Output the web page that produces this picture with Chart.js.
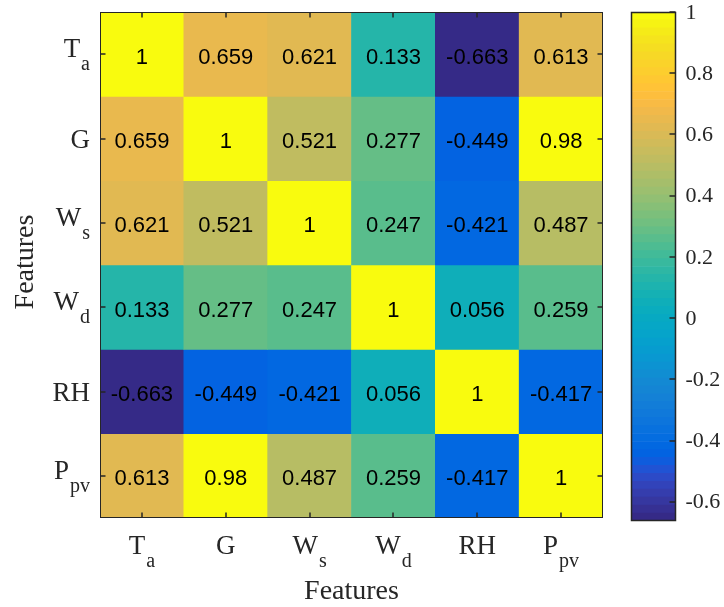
<!DOCTYPE html>
<html>
<head>
<meta charset="utf-8">
<script src="https://cdn.jsdelivr.net/npm/chart.js@4.4.1/dist/chart.umd.min.js"></script>
<style>
  body { margin: 0; background: #fff; }
  #wrap { position: relative; width: 724px; height: 607px; }
  #heat { position: absolute; left: 0; top: 0; }
  #bar { position: absolute; left: 620px; top: 0; }
</style>
</head>
<body>
<div id="wrap">
  <canvas id="heat" width="620" height="607"></canvas>
  <canvas id="bar" width="104" height="607"></canvas>
</div>
<script>
// feature labels: base letter(s) + subscript
const featureBase = ['T', 'G', 'W', 'W', 'RH', 'P'];
const featureSub = ['a', '', 's', 'd', '', 'pv'];

// correlation matrix, one row per feature
const rowTa = [1, 0.659, 0.621, 0.133, -0.663, 0.613];
const rowG = [0.659, 1, 0.521, 0.277, -0.449, 0.98];
const rowWs = [0.621, 0.521, 1, 0.247, -0.421, 0.487];
const rowWd = [0.133, 0.277, 0.247, 1, 0.056, 0.259];
const rowRH = [-0.663, -0.449, -0.421, 0.056, 1, -0.417];
const rowPpv = [0.613, 0.98, 0.487, 0.259, -0.417, 1];
const matrix = [rowTa, rowG, rowWs, rowWd, rowRH, rowPpv];

// colorbar tick labels
const colorbarTicks = [1, 0.8, 0.6, 0.4, 0.2, 0, -0.2, -0.4, -0.6];

const axisTitle = 'Features';

// parula colormap, 64 entries
const PARULA = [
  [0.2081,0.1663,0.5292],[0.2116,0.1898,0.5777],[0.2123,0.2138,0.6270],[0.2081,0.2386,0.6771],
  [0.1959,0.2645,0.7279],[0.1707,0.2919,0.7792],[0.1253,0.3242,0.8303],[0.0591,0.3598,0.8683],
  [0.0117,0.3875,0.8820],[0.0060,0.4086,0.8828],[0.0165,0.4266,0.8786],[0.0329,0.4430,0.8720],
  [0.0498,0.4586,0.8641],[0.0629,0.4737,0.8554],[0.0723,0.4887,0.8467],[0.0779,0.5040,0.8384],
  [0.0793,0.5200,0.8312],[0.0749,0.5375,0.8263],[0.0641,0.5570,0.8240],[0.0488,0.5772,0.8228],
  [0.0343,0.5966,0.8199],[0.0265,0.6137,0.8135],[0.0239,0.6287,0.8038],[0.0231,0.6418,0.7913],
  [0.0228,0.6535,0.7768],[0.0267,0.6642,0.7607],[0.0384,0.6743,0.7436],[0.0590,0.6838,0.7254],
  [0.0843,0.6928,0.7062],[0.1133,0.7015,0.6859],[0.1453,0.7098,0.6646],[0.1801,0.7177,0.6424],
  [0.2178,0.7250,0.6193],[0.2586,0.7317,0.5954],[0.3022,0.7376,0.5712],[0.3482,0.7424,0.5473],
  [0.3953,0.7459,0.5244],[0.4420,0.7481,0.5033],[0.4871,0.7491,0.4840],[0.5300,0.7491,0.4661],
  [0.5709,0.7485,0.4494],[0.6099,0.7473,0.4337],[0.6473,0.7456,0.4188],[0.6834,0.7435,0.4044],
  [0.7184,0.7411,0.3905],[0.7525,0.7384,0.3768],[0.7858,0.7356,0.3633],[0.8185,0.7327,0.3498],
  [0.8507,0.7299,0.3360],[0.8824,0.7274,0.3217],[0.9139,0.7258,0.3063],[0.9450,0.7261,0.2886],
  [0.9739,0.7314,0.2666],[0.9938,0.7455,0.2403],[0.9990,0.7653,0.2164],[0.9955,0.7861,0.1967],
  [0.9880,0.8066,0.1794],[0.9789,0.8271,0.1633],[0.9697,0.8481,0.1475],[0.9626,0.8705,0.1309],
  [0.9589,0.8949,0.1132],[0.9598,0.9218,0.0948],[0.9661,0.9514,0.0755],[0.9763,0.9831,0.0538]
];

const cMin = Math.min(...matrix.flat());
const cMax = Math.max(...matrix.flat());

const toRgb = (c) => `rgb(${Math.round(c[0] * 255)},${Math.round(c[1] * 255)},${Math.round(c[2] * 255)})`;

// same binning as matlab: fix((v-cmin)/(cmax-cmin)*m)+1
const valueColor = (v) => {
  let k = Math.floor((v - cMin) / (cMax - cMin) * PARULA.length);
  k = Math.max(0, Math.min(PARULA.length - 1, k));
  return toRgb(PARULA[k]);
};

const AXIS_COLOR = '#262626';
const SERIF = '"Liberation Serif", "Times New Roman", serif';
const SANS = '"Liberation Sans", Arial, sans-serif';
const BASE_FONT = '27px ' + SERIF;
const SUB_FONT = '20px ' + SERIF;
const SUB_GAP = 1;
const SUB_DROP = 13;

// width of "T" + subscript "a"
const labelWidth = (ctx, base, sub) => {
  ctx.font = BASE_FONT;
  let w = ctx.measureText(base).width;
  if (sub) {
    ctx.font = SUB_FONT;
    w += SUB_GAP + ctx.measureText(sub).width;
  }
  return w;
};
// x is the left edge, y the baseline of the base text
const drawLabel = (ctx, base, sub, x, y) => {
  ctx.textAlign = 'left';
  ctx.textBaseline = 'alphabetic';
  ctx.font = BASE_FONT;
  ctx.fillText(base, x, y);
  if (sub) {
    const bw = ctx.measureText(base).width;
    ctx.font = SUB_FONT;
    ctx.fillText(sub, x + bw + SUB_GAP, y + SUB_DROP);
  }
};

// heatmap decoration: values, box, inward ticks, labels
const heatPlugin = {
  id: 'heatDeco',
  afterDraw(chart) {
    const ctx = chart.ctx;
    const area = chart.chartArea;
    const xs = chart.scales.x;
    const ys = chart.scales.y;
    ctx.save();

    // cell values
    ctx.fillStyle = '#000';
    ctx.font = '22px ' + SANS;
    ctx.textAlign = 'center';
    ctx.textBaseline = 'alphabetic';
    matrix.forEach((row, r) => {
      const cy = ys.getPixelForValue(r + 0.5);
      row.forEach((v, c) => {
        ctx.fillText(String(v), xs.getPixelForValue(c), cy + 9.5);
      });
    });

    // box
    ctx.strokeStyle = AXIS_COLOR;
    ctx.lineWidth = 1;
    const L = Math.round(area.left) + 0.5, R = Math.round(area.right) - 0.5;
    const T = Math.round(area.top) + 0.5, B = Math.round(area.bottom) - 0.5;
    ctx.strokeRect(L, T, R - L, B - T);

    // ticks, pointing in, on all four sides
    ctx.lineWidth = 1.5;
    ctx.beginPath();
    featureBase.forEach((_, i) => {
      const px = Math.round(xs.getPixelForValue(i));
      const py = Math.round(ys.getPixelForValue(i + 0.5));
      ctx.moveTo(px, T); ctx.lineTo(px, T + 5);
      ctx.moveTo(px, B); ctx.lineTo(px, B - 5);
      ctx.moveTo(L, py); ctx.lineTo(L + 5, py);
      ctx.moveTo(R, py); ctx.lineTo(R - 5, py);
    });
    ctx.stroke();

    // tick labels
    ctx.fillStyle = AXIS_COLOR;
    featureBase.forEach((base, i) => {
      const sub = featureSub[i];
      const w = labelWidth(ctx, base, sub);
      const py = ys.getPixelForValue(i + 0.5);
      drawLabel(ctx, base, sub, 90 - w, py + (sub ? 3 : 9));
      const px = xs.getPixelForValue(i);
      drawLabel(ctx, base, sub, px - w / 2, 554);
    });

    // axis titles
    ctx.font = '28px ' + SERIF;
    ctx.textAlign = 'center';
    ctx.textBaseline = 'alphabetic';
    ctx.fillText(axisTitle, (area.left + area.right) / 2, 599);
    ctx.save();
    ctx.translate(33, (area.top + area.bottom) / 2 - 3);
    ctx.rotate(-Math.PI / 2);
    ctx.fillText(axisTitle, 0, 0);
    ctx.restore();

    ctx.restore();
  }
};

// one floating-bar dataset per row
const heatDatasets = matrix.map((row, r) => ({
  data: row.map(() => [r, r + 1]),
  backgroundColor: row.map(valueColor),
  borderWidth: 0,
  barPercentage: 1,
  categoryPercentage: 1,
  grouped: false
}));

new Chart(document.getElementById('heat'), {
  type: 'bar',
  data: {
    labels: featureBase.map((b, i) => b + featureSub[i]),
    datasets: heatDatasets
  },
  options: {
    responsive: false,
    animation: false,
    layout: { padding: { left: 100, top: 12, right: 17, bottom: 89 } },
    scales: {
      x: { display: false },
      y: { type: 'linear', min: 0, max: matrix.length, reverse: true, display: false }
    },
    plugins: { legend: { display: false }, tooltip: { enabled: false } }
  },
  plugins: [heatPlugin]
});

// colorbar: 64 stacked slices of the colormap
const step = (cMax - cMin) / PARULA.length;
const barDatasets = PARULA.map((c, k) => ({
  data: [[cMin + k * step, cMin + (k + 1) * step]],
  backgroundColor: toRgb(c),
  borderWidth: 0,
  barPercentage: 1,
  categoryPercentage: 1,
  grouped: false
}));

const colorbarPlugin = {
  id: 'colorbarDeco',
  afterDraw(chart) {
    const ctx = chart.ctx;
    const area = chart.chartArea;
    const ys = chart.scales.y;
    ctx.save();
    ctx.strokeStyle = AXIS_COLOR;
    ctx.lineWidth = 1.5;
    const L = Math.round(area.left) + 0.5, R = Math.round(area.right) - 0.5;
    const T = Math.round(area.top) + 0.5, B = Math.round(area.bottom) - 0.5;
    ctx.strokeRect(L, T, R - L, B - T);
    ctx.beginPath();
    colorbarTicks.forEach(v => {
      const py = Math.round(ys.getPixelForValue(v));
      ctx.moveTo(R, py); ctx.lineTo(R - 6, py);
    });
    ctx.stroke();
    ctx.fillStyle = AXIS_COLOR;
    ctx.font = '22px ' + SERIF;
    ctx.textAlign = 'left';
    ctx.textBaseline = 'middle';
    colorbarTicks.forEach(v => {
      ctx.fillText(String(v), R + 10, ys.getPixelForValue(v) + 1);
    });
    ctx.restore();
  }
};

new Chart(document.getElementById('bar'), {
  type: 'bar',
  data: { labels: [''], datasets: barDatasets },
  options: {
    responsive: false,
    animation: false,
    layout: { padding: { left: 11, top: 12, right: 48, bottom: 86 } },
    scales: {
      x: { display: false },
      y: { type: 'linear', min: cMin, max: cMax, display: false }
    },
    plugins: { legend: { display: false }, tooltip: { enabled: false } }
  },
  plugins: [colorbarPlugin]
});
</script>
</body>
</html>
